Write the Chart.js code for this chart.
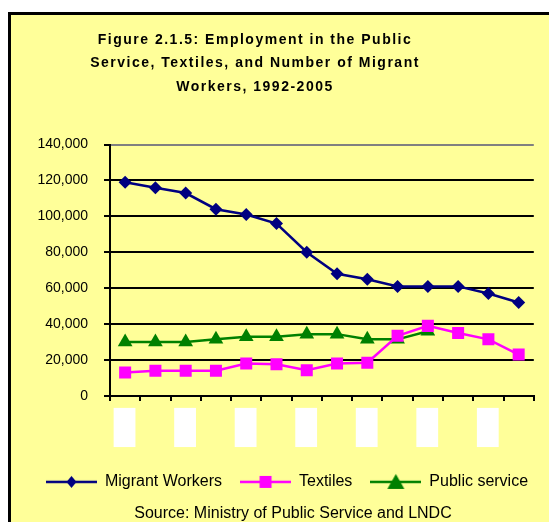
<!DOCTYPE html>
<html><head><meta charset="utf-8">
<script src="https://cdn.jsdelivr.net/npm/chart.js@4.4.1/dist/chart.umd.min.js"></script>
<style>html,body{margin:0;padding:0;background:#fff;overflow:hidden}canvas{display:block}</style>
</head><body><canvas id="c" width="549" height="522"></canvas>
<script>
// ---- data ----
const years = ['1992','1993','1994','1995','1996','1997','1998','1999','2000','2001','2002','2003','2004','2005'];
const migrantWorkers = [119000,116000,113000,104000,101000,96000,80000,68000,65000,61000,61000,61000,57000,52000];
const textiles = [13000,14000,14000,14000,18000,17600,14300,18000,18500,33500,39000,35000,31500,23000];
const publicService = [30000,30000,30000,31500,33000,33000,34400,34400,31500,31500,36000,null,null,null];
const yMin = 0, yMax = 140000, yStep = 20000;
const titleLines = ['Figure 2.1.5: Employment in the Public','Service, Textiles, and Number of Migrant','Workers, 1992-2005'];
const sourceText = 'Source: Ministry of Public Service and LNDC';

const FONT = "'Liberation Sans', Arial, Helvetica, sans-serif";

function legendIcon(color, shape) {
  const c = document.createElement('canvas');
  c.width = 51; c.height = 20;
  const g = c.getContext('2d');
  const cx = 25.5, cy = 10;
  g.strokeStyle = color; g.lineWidth = 2.5;
  g.beginPath(); g.moveTo(0, cy); g.lineTo(51, cy); g.stroke();
  g.fillStyle = color; g.beginPath();
  if (shape === 'diamond') {
    g.moveTo(cx, cy - 6); g.lineTo(cx + 5, cy); g.lineTo(cx, cy + 6); g.lineTo(cx - 5, cy);
  } else if (shape === 'square') {
    g.rect(cx - 6, cy - 6, 12, 12);
  } else {
    g.moveTo(cx, cy - 8); g.lineTo(cx + 8.5, cy + 7); g.lineTo(cx - 8.5, cy + 7);
  }
  g.closePath(); g.fill();
  return c;
}
const icons = [legendIcon('#000080','diamond'), legendIcon('#FF00FF','square'), legendIcon('#008000','triangle')];

function shiftBox(chart, box, dx, spacing) {
  if (!box || box._shifted) return;
  const orig = box.draw.bind(box);
  box.draw = function(area) {
    const c = chart.ctx;
    c.save();
    c.translate(dx, 0);
    if (spacing) c.letterSpacing = spacing;
    orig(area);
    c.restore();
  };
  box._shifted = true;
}

const framePlugin = {
  id: 'frame',
  afterLayout(chart) {
    shiftBox(chart, chart.titleBlock, -12, '1.5px');
    shiftBox(chart, chart.legend, 20, null);
    const sub = chart.boxes.find(b => b !== chart.titleBlock && b.options && b.options.text === sourceText);
    shiftBox(chart, sub, 26, null);
  },
  beforeDraw(chart) {
    const ctx = chart.ctx;
    ctx.save();
    ctx.fillStyle = '#FFFFFF';
    ctx.fillRect(0, 0, chart.width, chart.height);
    ctx.fillStyle = '#FFFF99';
    ctx.fillRect(9, 13, 700, 700);
    ctx.strokeStyle = '#000000';
    ctx.lineWidth = 3;
    ctx.strokeRect(9.5, 13.5, 700, 700);
    ctx.restore();
  }
};

new Chart(document.getElementById('c'), {
  type: 'line',
  data: {
    labels: years,
    datasets: [
      { label: 'Migrant Workers', data: migrantWorkers, borderColor: '#000080', backgroundColor: '#000080',
        borderWidth: 2.5, pointStyle: 'rectRot', pointRadius: 6.5, pointHoverRadius: 6.5, pointBorderWidth: 0, tension: 0 },
      { label: 'Textiles', data: textiles, borderColor: '#FF00FF', backgroundColor: '#FF00FF',
        borderWidth: 2.5, pointStyle: 'rect', pointRadius: 8.5, pointHoverRadius: 8.5, pointBorderWidth: 0, tension: 0 },
      { label: 'Public service', data: publicService, borderColor: '#008000', backgroundColor: '#008000',
        borderWidth: 2.5, pointStyle: 'triangle', pointRadius: 8.5, pointHoverRadius: 8.5, pointBorderWidth: 0, tension: 0, spanGaps: false }
    ]
  },
  options: {
    responsive: false,
    animation: false,
    devicePixelRatio: 1,
    layout: { padding: { left: 0, right: 15, top: 0, bottom: 0 } },
    plugins: {
      title: {
        display: true, text: titleLines, color: '#000000',
        font: { family: FONT, size: 14, weight: 'bold', lineHeight: 1.68 },
        padding: { top: 28, bottom: 46 }
      },
      subtitle: {
        display: true, position: 'bottom', text: sourceText, color: '#000000',
        font: { family: FONT, size: 16, lineHeight: 1.1 },
        padding: { top: 4.5, bottom: 0 }
      },
      legend: {
        position: 'bottom',
        labels: {
          usePointStyle: true, pointStyleWidth: 51, boxHeight: 16,
          font: { family: FONT, size: 16 }, color: '#000000', padding: 18,
          generateLabels(chart) {
            return chart.data.datasets.map((ds, i) => ({
              text: ds.label, pointStyle: icons[i], fillStyle: ds.backgroundColor,
              strokeStyle: ds.borderColor, lineWidth: 0, hidden: false, datasetIndex: i, fontColor: '#000000'
            }));
          }
        }
      },
      tooltip: { enabled: false }
    },
    scales: {
      x: {
        offset: true,
        afterFit: (s) => { s.height = 60; },
        grid: {
          offset: true, drawOnChartArea: true, lineWidth: 2, tickLength: 5, tickColor: '#000000',
          color: (c) => (c.index === years.length ? '#808080' : 'rgba(0,0,0,0)')
        },
        border: { display: true, color: '#000000', width: 2 },
        ticks: {
          autoSkip: false, minRotation: 90, maxRotation: 90, padding: 13, labelOffset: -9,
          font: { family: FONT, size: 14 }, color: '#FFFFFF',
          callback: function(value, index) { return index % 2 === 0 ? this.getLabelForValue(value) : ''; },
          showLabelBackdrop: (c) => c.index % 2 === 0,
          backdropColor: '#FFFFFF',
          backdropPadding: { left: 2, right: 6, top: 2.5, bottom: 2.5 }
        }
      },
      y: {
        min: yMin, max: yMax,
        afterFit: (s) => { s.width = 110; },
        grid: {
          lineWidth: 2, tickLength: 6, tickColor: '#000000',
          color: (c) => (c.tick && c.tick.value === yMax ? '#808080' : '#000000')
        },
        border: { display: true, color: '#000000', width: 2 },
        ticks: { stepSize: yStep, padding: 16, color: '#000000', font: { family: FONT, size: 14 } }
      }
    }
  },
  plugins: [framePlugin]
});
</script>
</body></html>
